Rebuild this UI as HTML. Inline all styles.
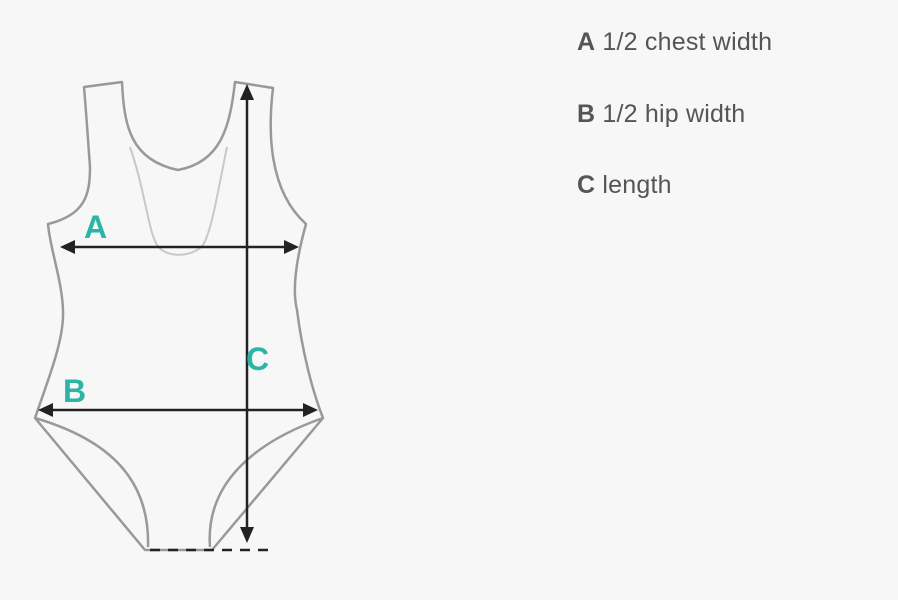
<!DOCTYPE html>
<html><head><meta charset="utf-8"><style>
html,body{margin:0;padding:0;background:#f7f7f7;}
body{width:898px;height:600px;position:relative;overflow:hidden;font-family:"Liberation Sans",Arial,sans-serif;}
.t{position:absolute;left:577px;font-size:25px;letter-spacing:0.2px;color:#555;white-space:nowrap;line-height:1;}
.t b{color:#555;}
</style></head><body>
<svg width="898" height="600" style="position:absolute;left:0;top:0">
<g fill="none" stroke="#999" stroke-width="2.5" stroke-linejoin="round">
<path d="M84,87 L122,82 C124,125 130,160 178,170 C222,162 230,125 235,82 L273,88 C268,130 268,190 306,224 C296,260 292,290 297,310 C302,350 312,390 323,418 L212,550 L145,550 L35,418 C48,380 62,345 63,317 C64,285 50,250 48,224 C85,215 90,195 90,167 C88,140 86,110 84,87 Z"/>
<path d="M35,418 C110,440 150,480 148,547"/>
<path d="M323,418 C260,440 205,480 210,547"/>
</g>
<path d="M130,147 C145,190 148,230 157,245 C165,258 192,258 203,245 C212,230 218,190 227,147" fill="none" stroke="#c8c8c8" stroke-width="2"/>
<g stroke="#222" stroke-width="2.5">
<line x1="70" y1="247" x2="290" y2="247"/>
<line x1="48" y1="410" x2="308" y2="410"/>
<line x1="247" y1="98" x2="247" y2="530"/>
<line x1="150" y1="550" x2="272" y2="550" stroke-dasharray="10,8"/>
</g>
<g fill="#222">
<path d="M60,247 L75,240 L75,254 z"/>
<path d="M299,247 L284,240 L284,254 z"/>
<path d="M38,410 L53,403 L53,417 z"/>
<path d="M318,410 L303,403 L303,417 z"/>
<path d="M247,84 L240,100 L254,100 z"/>
<path d="M247,543 L240,527 L254,527 z"/>
</g>
<g font-family="Liberation Sans,Arial,sans-serif" font-weight="bold" font-size="32" fill="#2bb5a5">
<text x="84" y="238">A</text>
<text x="63" y="402">B</text>
<text x="246" y="370">C</text>
</g>
</svg>
<div class="t" style="top:30px"><b>A</b> 1/2 chest width</div>
<div class="t" style="top:102px"><b>B</b> 1/2 hip width</div>
<div class="t" style="top:173px"><b>C</b> length</div>
</body></html>
